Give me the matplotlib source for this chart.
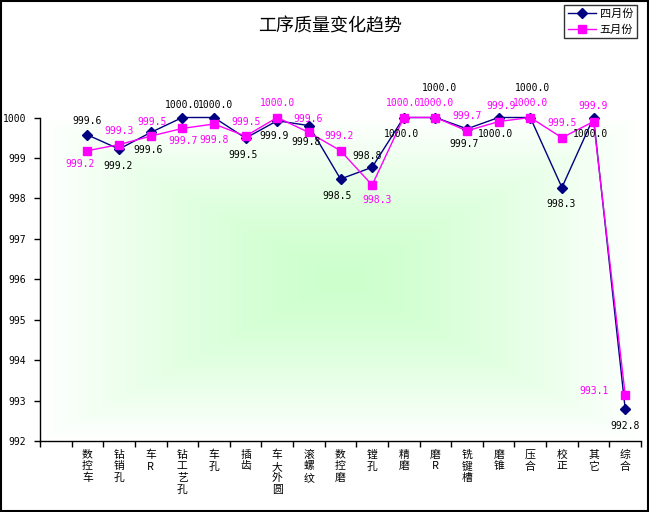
import matplotlib
matplotlib.use("Agg")
import matplotlib.pyplot as plt
import matplotlib.patches as patches
import numpy as np

plt.rcParams['font.family'] = ['Noto Sans CJK SC', 'DejaVu Sans']

categories = ['数控车', '钻销孔', '车R', '钻工艺孔', '车孔', '插齿', '车大外圆', '滚螺纹',
              '数控磨', '镗孔', '精磨', '磨R', '铣键槽', '磨锥', '压合', '校正', '其它', '综合']
april = [999.57, 999.22, 999.63, 1000.0, 1000.0, 999.49, 999.92, 999.80, 998.48,
         998.77, 1000.0, 1000.0, 999.72, 1000.0, 1000.0, 998.27, 1000.0, 992.80]
may = [999.18, 999.33, 999.54, 999.73, 999.84, 999.54, 1000.0, 999.63, 999.18,
       998.33, 1000.0, 1000.0, 999.67, 999.90, 1000.0, 999.50, 999.90, 993.15]
yticks = [992, 993, 994, 995, 996, 997, 998, 999, 1000]

# label offsets in pixels (dx, dy downwards)
april_off = [(0, -14), (-1, 17), (-3, 18), (0, -13), (2, -13), (-3, 17), (-3, 15), (-3, 16), (-3, 17),
             (-5, -11), (-2, 16), (4, -30), (-3, 15), (-3, 16), (2, -30), (-1, 16), (-3, 16), (0, 17)]
may_off = [(-7, 13), (0, -14), (1, -14), (1, 13), (0, 16), (0, -14), (0, -15), (-1, -13), (-1, -15),
           (5, 15), (0, -15), (1, -15), (0, -15), (2, -16), (0, -15), (0, -15), (0, -16), (-31, -4)]

navy = '#000080'
magenta = '#FF00FF'

fig = plt.figure(figsize=(6.49, 5.12), dpi=100, facecolor='w')
ax = fig.add_axes([40 / 649, 1 - 441.3 / 512, 601 / 649, (441.3 - 117.5) / 512])

x = np.arange(len(categories))
ax.set_xlim(-1.5, len(categories) - 0.5)
ax.set_ylim(992, 1000)

# gradient background, light green in the middle fading to white
nx, ny = 300, 200
gx = np.abs(np.linspace(-1, 1, nx))[None, :]
gy = np.abs(np.linspace(-1, 1, ny))[:, None]
t = np.maximum(gx, gy)
t = np.clip(t, 0, 1) ** 1.3
c0 = np.array([0.80, 1.0, 0.80])
img = (1 - t)[..., None] * c0 + t[..., None] * np.ones(3)
ax.imshow(img, extent=[-1.5, len(categories) - 0.5, 992, 1000], aspect='auto', zorder=0)

ax.plot(x, april, color=navy, lw=1, marker='D', ms=5, mfc=navy, mec=navy,
        label='四月份', clip_on=False, zorder=3)
ax.plot(x, may, color=magenta, lw=1, marker='s', ms=5.5, mfc=magenta, mec=magenta,
        label='五月份', clip_on=False, zorder=4)

for xi, v, (dx, dy) in zip(x, april, april_off):
    ax.annotate('%.1f' % v, (xi, v), xytext=(dx, -dy), textcoords='offset pixels',
                ha='center', va='center', fontsize=7, family='DejaVu Sans Mono', color='k', zorder=5)
for xi, v, (dx, dy) in zip(x, may, may_off):
    ax.annotate('%.1f' % v, (xi, v), xytext=(dx, -dy), textcoords='offset pixels',
                ha='center', va='center', fontsize=7, family='DejaVu Sans Mono', color=magenta, zorder=5)

# axes styling
for s in ['top', 'right']:
    ax.spines[s].set_visible(False)
for s in ['left', 'bottom']:
    ax.spines[s].set_linewidth(1)
    ax.spines[s].set_color('k')

ax.set_yticks(yticks)
ax.set_yticklabels([str(v) for v in yticks], family='DejaVu Sans Mono', fontsize=7)
ax.tick_params(axis='y', direction='out', length=4, width=1, pad=6)

ax.set_xticks(np.arange(-1.5, len(categories)), minor=False)
ax.set_xticklabels([])
ax.set_xticks(x, minor=True)
ax.set_xticklabels(['\n'.join(c) for c in categories], minor=True, fontsize=7.8,
                   va='top', linespacing=1.2)
ax.tick_params(axis='x', which='major', direction='out', length=4, width=1)
ax.tick_params(axis='x', which='minor', length=0, pad=6)

fig.text(330 / 649, 1 - 26 / 512, '工序质量变化趋势', ha='center', va='center', fontsize=13)

leg = fig.legend(loc='upper right', bbox_to_anchor=(637 / 649, 1 - 5 / 512), fontsize=8,
                 frameon=True, fancybox=False, shadow=False, handlelength=2.6,
                 handletextpad=0.3, borderpad=0.35, labelspacing=0.45, borderaxespad=0)
leg.get_frame().set_edgecolor('k')
leg.get_frame().set_linewidth(1)

# outer chart border
fig.patches.append(patches.Rectangle((0.001, 0.002), 0.997, 0.996, transform=fig.transFigure,
                                     fill=False, edgecolor='k', linewidth=1.5))

fig.savefig('out.png', dpi=100)
